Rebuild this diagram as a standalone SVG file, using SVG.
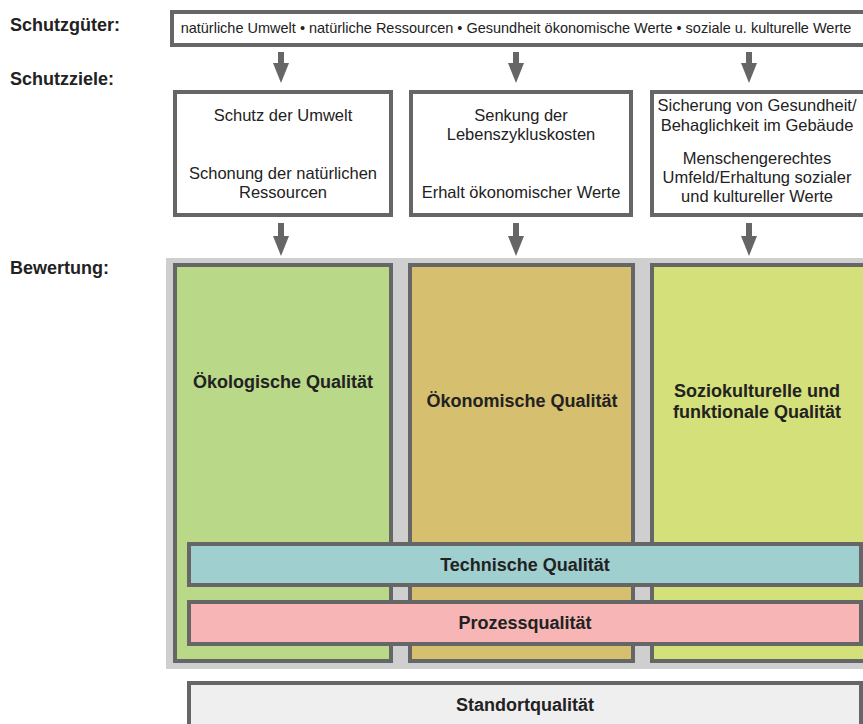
<svg xmlns="http://www.w3.org/2000/svg" width="863" height="724" viewBox="0 0 863 724">
<style>
.lbl{font-family:"Liberation Sans",Arial,sans-serif;font-weight:bold;font-size:18px;fill:#222}
.t{font-family:"Liberation Sans",Arial,sans-serif;font-size:16.5px;fill:#222;text-anchor:middle}
.top{font-family:"Liberation Sans",Arial,sans-serif;font-size:14.5px;fill:#222;text-anchor:middle}
.b{font-family:"Liberation Sans",Arial,sans-serif;font-weight:bold;font-size:18px;fill:#222;text-anchor:middle}
.box{fill:#fff;stroke:#666;stroke-width:4}
.col{stroke:#666;stroke-width:4}
.arr{stroke:#666;stroke-width:6}
</style>
<defs>
<marker id="ah" viewBox="0 0 20 16" refX="2" refY="8" markerWidth="20" markerHeight="16" orient="auto" markerUnits="userSpaceOnUse">
<path d="M0,0 L20,8 L0,16 z" fill="#666"/>
</marker>
</defs>
<rect width="863" height="724" fill="#fff"/>
<g id="labels">
<text class="lbl" x="10" y="31">Schutzgüter:</text>
<text class="lbl" x="10" y="85">Schutzziele:</text>
<text class="lbl" x="10" y="274">Bewertung:</text>
</g>
<g id="schutzgueter">
<rect class="box" x="172" y="12" width="695" height="33"/>
<text class="top" x="516" y="33">natürliche Umwelt • natürliche Ressourcen • Gesundheit ökonomische Werte • soziale u. kulturelle Werte</text>
</g>
<g id="ziel1">
<rect class="box" x="175" y="92" width="216" height="123"/>
<text class="t" x="283" y="121">Schutz der Umwelt</text>
<text class="t" x="283" y="179">Schonung der natürlichen</text>
<text class="t" x="283" y="198">Ressourcen</text>
</g>
<g id="ziel2">
<rect class="box" x="411" y="92" width="220" height="123"/>
<text class="t" x="521" y="121">Senkung der</text>
<text class="t" x="521" y="140">Lebenszykluskosten</text>
<text class="t" x="521" y="198">Erhalt ökonomischer Werte</text>
</g>
<g id="ziel3">
<rect class="box" x="652" y="92" width="220" height="123"/>
<text class="t" x="757" y="111">Sicherung von Gesundheit/</text>
<text class="t" x="757" y="131">Behaglichkeit im Gebäude</text>
<text class="t" x="757" y="164">Menschengerechtes</text>
<text class="t" x="757" y="183">Umfeld/Erhaltung sozialer</text>
<text class="t" x="757" y="202">und kultureller Werte</text>
</g>
<g id="bewertung">
<rect x="166" y="258" width="700" height="411" fill="#cfcfcf"/>
</g>
<g id="oekologisch">
<rect class="col" x="175" y="265" width="216" height="396" fill="#b9d888"/>
<text class="b" x="283" y="388">Ökologische Qualität</text>
</g>
<g id="oekonomisch">
<rect class="col" x="410" y="265" width="223" height="396" fill="#d6bf6e"/>
<text class="b" x="522" y="407">Ökonomische Qualität</text>
</g>
<g id="soziokulturell">
<rect class="col" x="652" y="265" width="220" height="396" fill="#d4e07a"/>
<text class="b" x="757" y="397">Soziokulturelle und</text>
<text class="b" x="757" y="418">funktionale Qualität</text>
</g>
<g id="technisch">
<rect class="col" x="189" y="544" width="672" height="41" fill="#9fcfcf"/>
<text class="b" x="525" y="571">Technische Qualität</text>
</g>
<g id="prozess">
<rect class="col" x="189" y="602" width="672" height="42" fill="#f7b5b5"/>
<text class="b" x="525" y="629">Prozessqualität</text>
</g>
<g id="standort">
<rect class="col" x="189" y="683" width="672" height="46" fill="#efefef"/>
<text class="b" x="525" y="711">Standortqualität</text>
</g>
<g id="connectors">
<line class="arr" x1="281" y1="52" x2="281" y2="65" marker-end="url(#ah)"/>
<line class="arr" x1="516" y1="52" x2="516" y2="65" marker-end="url(#ah)"/>
<line class="arr" x1="749" y1="52" x2="749" y2="65" marker-end="url(#ah)"/>
<line class="arr" x1="281" y1="223" x2="281" y2="238" marker-end="url(#ah)"/>
<line class="arr" x1="516" y1="223" x2="516" y2="238" marker-end="url(#ah)"/>
<line class="arr" x1="749" y1="223" x2="749" y2="238" marker-end="url(#ah)"/>
</g>
</svg>
